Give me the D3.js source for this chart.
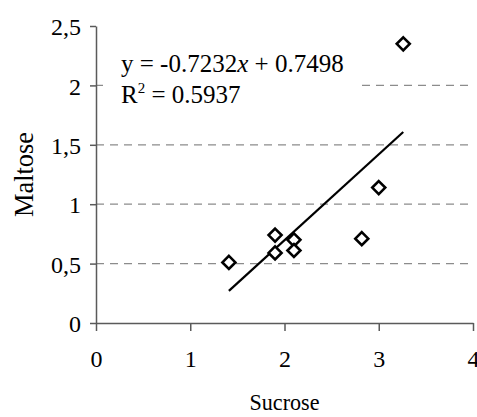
<!DOCTYPE html>
<html>
<head>
<meta charset="utf-8">
<script src="https://cdn.jsdelivr.net/npm/d3@7"></script>
<style>
  body { margin: 0; background: #fff; }
  svg text { font-family: "Liberation Serif", "Times New Roman", serif; fill: #000; }
</style>
</head>
<body>
<svg id="chart"></svg>
<script>
// data
const sucrose = [1.41, 1.9, 1.9, 2.1, 2.1, 2.82, 3.0, 3.26];
const maltose = [0.51, 0.74, 0.59, 0.70, 0.61, 0.71, 1.14, 2.35];
const xTicks = [0, 1, 2, 3, 4];
const yTicks = [0, 0.5, 1, 1.5, 2, 2.5];
const trendSlope = 0.7232;
const trendIntercept = -0.7498;
const eqLabel = ["y = -0.7232", "x", " + 0.7498"];
const r2Label = "0.5937";

const width = 477, height = 417;
const svg = d3.select("#chart").attr("width", width).attr("height", height);

const x = d3.scaleLinear().domain([0, 4]).range([96, 473]);
const y = d3.scaleLinear().domain([0, 2.5]).range([323, 26]);
const fmt = d => String(d).replace(".", ",");
const axisColor = "#5a5a5a";

// gridlines
svg.append("g")
  .selectAll("line")
  .data(yTicks.filter(d => d > 0 && d < 2.5))
  .join("line")
  .attr("x1", x(0)).attr("x2", x(4))
  .attr("y1", d => y(d)).attr("y2", d => y(d))
  .attr("stroke", "#8c8c8c")
  .attr("stroke-width", 1.3)
  .attr("stroke-dasharray", "8,6");

// y axis
const yAxis = svg.append("g")
  .attr("transform", `translate(${x(0)},0)`)
  .call(d3.axisLeft(y).tickValues(yTicks).tickSize(6).tickSizeOuter(0).tickFormat(fmt));
yAxis.select(".domain").attr("stroke", axisColor).attr("stroke-width", 1.5);
yAxis.selectAll(".tick line").attr("stroke", axisColor).attr("stroke-width", 1.5);
yAxis.selectAll(".tick text")
  .attr("x", -15).attr("dy", "0.36em")
  .style("font-size", "24px");

// x axis
const xAxis = svg.append("g")
  .attr("transform", `translate(0,${y(0)})`)
  .call(d3.axisBottom(x).tickValues(xTicks).tickSize(8).tickSizeOuter(0).tickFormat(d3.format("d")));
xAxis.select(".domain").attr("stroke", axisColor).attr("stroke-width", 1.5);
xAxis.selectAll(".tick text")
  .attr("y", 0).attr("dy", 44)
  .style("font-size", "24px");
xAxis.selectAll(".tick line").attr("stroke", axisColor).attr("stroke-width", 1.5);

// axis titles
svg.append("text")
  .attr("transform", `translate(33,${(y(0) + y(2.5)) / 2}) rotate(-90)`)
  .attr("text-anchor", "middle")
  .attr("textLength", 85)
  .attr("lengthAdjust", "spacingAndGlyphs")
  .style("font-size", "27px")
  .text("Maltose");

svg.append("text")
  .attr("x", x(2)).attr("y", 410)
  .attr("text-anchor", "middle")
  .attr("textLength", 70)
  .attr("lengthAdjust", "spacingAndGlyphs")
  .style("font-size", "24px")
  .text("Sucrose");

// trend line
const xMin = d3.min(sucrose), xMax = d3.max(sucrose);
svg.append("line")
  .attr("x1", x(xMin)).attr("y1", y(trendSlope * xMin + trendIntercept))
  .attr("x2", x(xMax)).attr("y2", y(trendSlope * xMax + trendIntercept))
  .attr("stroke", "#000").attr("stroke-width", 2.2);

// points
const pts = sucrose.map((s, i) => ({ s, m: maltose[i] }));
svg.append("g")
  .selectAll("path")
  .data(pts)
  .join("path")
  .attr("transform", d => `translate(${x(d.s)},${y(d.m)})`)
  .attr("d", "M0,-6.5L6.5,0L0,6.5L-6.5,0Z")
  .attr("fill", "#fff")
  .attr("stroke", "#000")
  .attr("stroke-width", 2.6);

// equation label
svg.append("rect")
  .attr("x", 103).attr("y", 46).attr("width", 254).attr("height", 62)
  .attr("fill", "#fff");

const eq = svg.append("text")
  .attr("x", 121).attr("y", 72)
  .style("font-size", "25px");
eq.append("tspan").text(eqLabel[0]);
eq.append("tspan").style("font-style", "italic").text(eqLabel[1]);
eq.append("tspan").text(eqLabel[2]);

const r2 = svg.append("text")
  .attr("x", 121).attr("y", 103)
  .style("font-size", "25px");
r2.append("tspan").text("R");
r2.append("tspan").attr("dy", -10).style("font-size", "15px").text("2");
r2.append("tspan").attr("dy", 10).text(" = " + r2Label);
</script>
</body>
</html>
